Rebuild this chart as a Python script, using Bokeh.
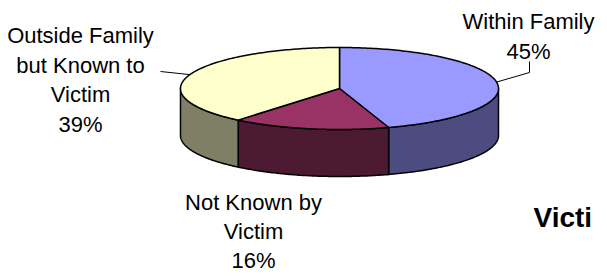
import numpy as np
from bokeh.plotting import figure
from bokeh.models import Range1d, Label
from bokeh.core.properties import value
from bokeh.embed import file_html
from bokeh.resources import INLINE

# ---- data ----
categories = ["Within Family", "Not Known by Victim", "Outside Family but Known to Victim"]
percents = [45, 16, 39]
label_lines = [["Within Family"], ["Not Known by", "Victim"], ["Outside Family", "but Known to", "Victim"]]
top_colors = ["#9999FF", "#993366", "#FFFFCC"]
side_colors = ["#4C4C80", "#4D1A33", "#7F7F66"]
title_text = "Victi"

# ---- layout (window pixel coordinates; the plot sits at the 8px page margin) ----
M = 8
W, H = 599, 270
CX, CY, A, B, DEPTH = 347, 96, 159, 41, 47
FONT = "Liberation Sans"
FS = "22px"
label_pos = [(536, 29), (261, 210), (88, 43)]          # center x, first baseline
label_sp = [29.5, 29.0, 29.5]
leader_end = [[(537, 80), (537, 69)], None, [(168, 79)]]

def ell(theta_deg, dy=0.0):
    t = np.radians(theta_deg)
    return CX + A * np.sin(t), CY - B * np.cos(t) + dy

p = figure(width=W, height=H, x_range=Range1d(M, M + W), y_range=Range1d(M + H, M),
           output_backend="svg", toolbar_location=None, min_border=0,
           x_axis_type=None, y_axis_type=None, outline_line_color=None,
           background_fill_color="white", border_fill_color="white")
p.grid.visible = False

angles = np.concatenate([[0], np.cumsum(percents) / sum(percents) * 360.0])

# side walls (front half only)
sx, sy, sc = [], [], []
for i in range(len(percents)):
    lo, hi = max(angles[i], 90), min(angles[i + 1], 270)
    if hi > lo:
        th = np.linspace(lo, hi, 80)
        tx, ty = ell(th)
        bx, by = ell(th[::-1], DEPTH)
        sx.append(list(tx) + list(bx))
        sy.append(list(ty) + list(by))
        sc.append(side_colors[i])
p.patches(sx, sy, fill_color=sc, line_color="black", line_width=1.5, line_join="round")

# top faces
tx_all, ty_all = [], []
for i in range(len(percents)):
    th = np.linspace(angles[i], angles[i + 1], 160)
    ex, ey = ell(th)
    tx_all.append([CX] + list(ex))
    ty_all.append([CY] + list(ey))
p.patches(tx_all, ty_all, fill_color=top_colors, line_color="black", line_width=1.5, line_join="round")

# labels and leaders
xs, ys, texts = [], [], []
for i, lines in enumerate(label_lines):
    cx, by = label_pos[i]
    for j, ln in enumerate(lines + [f"{percents[i]}%"]):
        xs.append(cx)
        ys.append(by + j * label_sp[i])
        texts.append(ln)
    if leader_end[i] is not None:
        mid = (angles[i] + angles[i + 1]) / 2
        mx, my = ell(mid)
        pts = [(mx, my)] + leader_end[i]
        p.line([q[0] for q in pts], [q[1] for q in pts], line_color="black", line_width=1)
p.text(xs, ys, text=texts, text_align="center", text_baseline="alphabetic",
       text_font=value(FONT), text_font_size=FS, text_color="black", text_line_height=1.0)

p.add_layout(Label(x=541, y=225, text=title_text, text_font=FONT, text_font_size="28px",
                   text_font_style="bold", text_color="black", text_baseline="alphabetic"))

open("out.html", "w").write(file_html(p, INLINE))
